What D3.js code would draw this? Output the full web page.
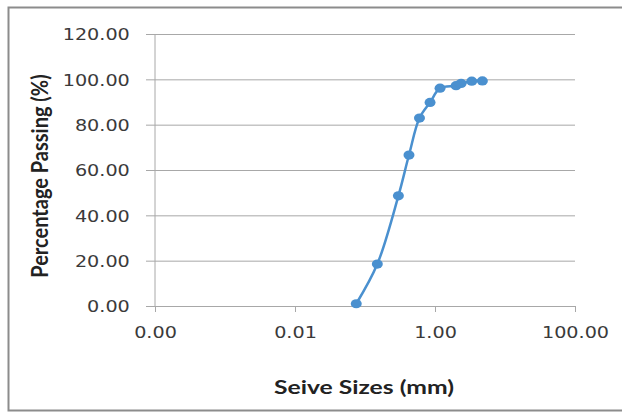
<!DOCTYPE html>
<html>
<head>
<meta charset="utf-8">
<script src="https://cdn.jsdelivr.net/npm/d3@7"></script>
<style>
  body { margin: 0; background: #fff; }
  svg { display: block; }
</style>
</head>
<body>
<svg width="622" height="412"></svg>
<script>
// sieve analysis data
const sieveSizes = [0.075, 0.15, 0.3, 0.425, 0.6, 0.85, 1.18, 2.0, 2.36, 3.35, 4.75];
const percentPassing = [1.0, 18.5, 48.6, 66.6, 82.9, 89.8, 96.1, 97.2, 98.2, 99.2, 99.3];
const xTicks = [0.0001, 0.01, 1, 100];
const yTicks = [0, 20, 40, 60, 80, 100, 120];
const xTitle = 'Seive Sizes (mm)';
const yTitle = 'Percentage Passing (%)';

const margens = { left: 155, right: 47, top: 34, bottom: 106 };
const svg = d3.select('svg');
const W = 622, H = 412;
const stretch = 'scale(1.2,1)';

// border
svg.append('path')
    .attr('d', `M${W},7.5 H8.5 V410.5 H${W}`)
    .attr('fill', 'none')
    .attr('stroke', '#8c8c8c')
    .attr('stroke-width', 2);

const mapX = d3.scaleLog().domain([0.0001, 100]).range([margens.left, W - margens.right]);
const mapY = d3.scaleLinear().domain([0, 120]).range([H - margens.bottom, margens.top]);

// ---- Eixos
const yAxis = d3.axisLeft(mapY)
    .tickValues(yTicks)
    .tickFormat(d3.format('.2f'))
    .tickSize(-(mapX.range()[1] - mapX.range()[0]))
    .tickPadding(0);

const gy = svg.append('g')
    .attr('transform', `translate(${margens.left},0)`)
    .call(yAxis);
gy.select('.domain').remove();
gy.selectAll('.tick line')
    .attr('x1', -9)
    .attr('stroke', '#a8a8a8');
gy.selectAll('.tick text')
    .attr('x', -21)
    .attr('dy', '0.36em')
    .attr('transform', stretch)
    .attr('fill', '#3a3a3a')
    .style('font-family', 'DejaVu Sans')
    .style('font-size', '16px');

svg.append('line')
    .attr('x1', margens.left).attr('x2', margens.left)
    .attr('y1', mapY(120)).attr('y2', mapY(0))
    .attr('stroke', '#a8a8a8');

const xAxis = d3.axisBottom(mapX)
    .tickValues(xTicks)
    .tickFormat(d3.format('.2f'))
    .tickSize(6)
    .tickPadding(0);

const gx = svg.append('g')
    .attr('transform', `translate(0,${mapY(0)})`)
    .call(xAxis);
gx.select('.domain').attr('stroke', '#a8a8a8');
gx.selectAll('.tick line').attr('stroke', '#a8a8a8');
gx.selectAll('.tick text')
    .attr('y', 26)
    .attr('dy', '0.36em')
    .attr('transform', stretch)
    .attr('fill', '#3a3a3a')
    .style('font-family', 'DejaVu Sans')
    .style('font-size', '16px');

// titles
svg.append('text')
    .attr('transform', `translate(364,394) scale(1.3,1)`)
    .attr('text-anchor', 'middle')
    .attr('fill', '#222')
    .style('font-family', 'Lato')
    .style('font-weight', 'bold')
    .style('font-size', '19px')
    .text(xTitle);

svg.append('text')
    .attr('transform', `translate(48,176) rotate(-90) scale(1,1.15)`)
    .attr('text-anchor', 'middle')
    .attr('fill', '#222')
    .style('font-family', 'Lato')
    .style('font-weight', 'bold')
    .style('font-size', '20px')
    .text(yTitle);

// ---- Serie
const points = sieveSizes.map((s, i) => ({ size: s, pct: percentPassing[i] }));
const color = '#4a90cf';

svg.append('path')
    .datum(points)
    .attr('fill', 'none')
    .attr('stroke', color)
    .attr('stroke-width', 2.5)
    .attr('d', d3.line()
        .x(d => mapX(d.size))
        .y(d => mapY(d.pct))
        .curve(d3.curveCatmullRom.alpha(0.5)));

svg.append('g')
    .selectAll('ellipse')
    .data(points)
    .join('ellipse')
    .attr('cx', d => mapX(d.size))
    .attr('cy', d => mapY(d.pct))
    .attr('rx', 5.5)
    .attr('ry', 4.6)
    .attr('fill', color);
</script>
</body>
</html>
